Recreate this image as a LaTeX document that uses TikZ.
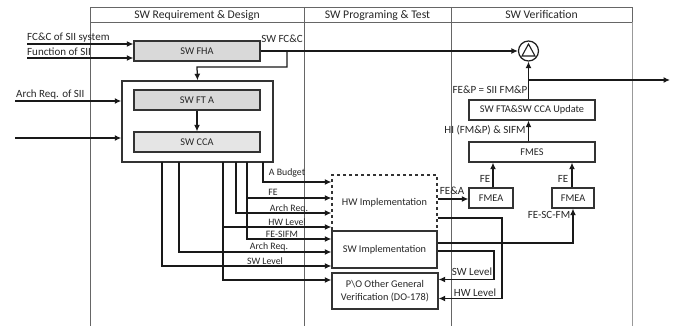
\documentclass[tikz,border=0pt]{standalone}
\usepackage{fontspec}
\setmainfont{Carlito}
\usetikzlibrary{arrows.meta,calc}
\tikzset{
  blk/.style={draw=black!80, line width=1.3pt, inner sep=0pt, fill=white,
              font=\fontsize{10.3}{12}\selectfont, text=black!85},
  grayblk/.style={blk, fill=black!15},
  lightblk/.style={blk, fill=black!10},
  lbl/.style={font=\fontsize{9.8}{11}\selectfont, inner sep=0pt, text=black!85},
  biglbl/.style={font=\fontsize{11}{12}\selectfont, inner sep=0pt, text=black!85},
  headlbl/.style={font=\fontsize{11.7}{13}\selectfont, inner sep=0pt, text=black!85},
  flow/.style={draw=black!90, line width=1.25pt, -{Latex[length=6.5pt,width=6pt]}},
  frame/.style={draw=black!60, line width=0.75pt},
}
\begin{document}
\begin{tikzpicture}[x=1pt,y=-1pt]
\useasboundingbox (0,0) rectangle (673,326);

% lane frame with its header row
\draw[frame] (90,7) rectangle (632,22);
\draw[frame] (90,22) -- (90,326);
\draw[frame] (304,7) -- (304,326);
\draw[frame] (451,7) -- (451,326);
\draw[frame, draw=black!40] (632,22) -- (632,326);
\node[headlbl] (h1) at (197,15) {SW Requirement \& Design};
\node[headlbl] (h2) at (377.5,15) {SW Programing \& Test};
\node[headlbl] (h3) at (541.5,15) {SW Verification};

% requirement and design blocks
\node[grayblk, minimum width=126pt, minimum height=20pt] (fha) at (197,51) {SW FHA};
\node[blk, line width=1.5pt, minimum width=151pt, minimum height=81pt] (outer) at (197.5,121.5) {};
\node[grayblk, minimum width=126pt, minimum height=20pt] (fta) at (197,100) {SW FT A};
\node[lightblk, minimum width=126pt, minimum height=20pt] (cca) at (197,142) {SW CCA};

% implementation blocks
\node[blk, dashed, minimum width=105pt, minimum height=56pt] (hw) at (384.5,203) {HW Implementation};
\node[blk, minimum width=105pt, minimum height=37pt] (sw) at (384.5,249.5) {SW Implementation};
\node[blk, minimum width=106pt, minimum height=36pt, align=center] (po) at (385,291)
  {P\textbackslash O Other General\\[1pt]Verification (DO-178)};

% verification blocks
\node[blk, minimum width=44pt, minimum height=20pt] (fmeaA) at (491,198) {FMEA};
\node[blk, minimum width=42pt, minimum height=20pt] (fmeaB) at (573,198) {FMEA};
\node[blk, minimum width=126pt, minimum height=20pt] (fmes) at (532,152) {FMES};
\node[blk, minimum width=126pt, minimum height=20pt] (upd) at (532,110) {SW FTA\&SW CCA Update};
\node[draw=black!88, line width=1.25pt, circle, minimum size=20pt, inner sep=0pt] (circ) at (528.5,51) {};
\draw[black!88, line width=1.1pt] ($(circ.center)+(0,-7)$) -- ($(circ.center)+(-6.5,5)$)
  -- ($(circ.center)+(6.5,5)$) -- cycle;

% external inputs
\coordinate (in1) at (27,44);
\coordinate (in2) at (27,58);
\coordinate (in3) at (15,101);
\coordinate (in4) at (15,138);
\draw[flow] (in1) -- (fha.west |- in1);
\draw[flow] (in2) -- (fha.west |- in2);
\draw[flow] (in3) -- (outer.west |- in3);
\draw[flow] (in4) -- (outer.west |- in4);
\node[biglbl, anchor=west] (l1) at (27,38) {FC\&C of SII system};
\node[biglbl, anchor=west] (l2) at (27,52) {Function of SII};
\node[biglbl, anchor=west] (l3) at (16,94.5) {Arch Req. of SII};

% FHA output
\draw[flow] (fha.east) -- (circ.west);
\draw[flow] (287,51) -- (287,67) -- (197,67) -- (outer.north);
\node[biglbl] (lfcc) at (282,39) {SW FC\&C};
\draw[flow] (fta.south) -- (cca.north);

% outputs from the FTA/CCA block
\draw[flow] (263,162) |- (hw.west |- 0,182);
\draw[flow] (247,162) |- (hw.west |- 0,198);
\draw[flow] (236,162) |- (hw.west |- 0,213);
\draw[flow] (223,162) |- (hw.west |- 0,227);
\draw[flow] (247,198) |- (sw.west |- 0,239);
\draw[flow] (179,162) |- (sw.west |- 0,252);
\draw[flow] (162,162) |- (sw.west |- 0,266);
\draw[flow] (223,227) |- (po.west |- 0,280);
\node[lbl] (lab) at (287,173) {A Budget};
\node[lbl] (lfe) at (273,192.5) {FE};
\node[lbl] (lar1) at (289,208.5) {Arch Req.};
\node[lbl] (lhw1) at (287,222.5) {HW Level};
\node[lbl] (lsifm) at (282,234) {FE-SIFM};
\node[lbl] (lar2) at (269,246.5) {Arch Req.};
\node[lbl] (lsw1) at (265,261) {SW Level};

% implementation outputs
\draw[flow] (hw.east |- 0,199) -- (fmeaA.west |- 0,199);
\draw[flow] (hw.east |- 0,218) -- (502,218) -- (502,298.5) -- (po.east |- 0,298.5);
\draw[flow] (sw.east |- 0,243) -| (fmeaB.south);
\draw[flow] (sw.east |- 0,251) -- (494,251) -- (494,279.5) -- (po.east |- 0,279.5);
\node[biglbl] (lfea) at (452,190.5) {FE\&A};
\node[biglbl] (lhw2) at (475,292.5) {HW Level};
\node[biglbl] (lsw2) at (472,272) {SW Level};
\node[biglbl] (lscfm) at (549,215) {FE-SC-FM};

% verification chain
\draw[flow] (fmeaA.north -| 493,0) -- (fmes.south -| 493,0);
\draw[flow] (fmeaB.north -| 572,0) -- (fmes.south -| 572,0);
\draw[flow] (fmes.north -| circ.center) -- (upd.south -| circ.center);
\draw[flow] (upd.north -| circ.center) -- (circ.south);
\coordinate (outR) at (670,80);
\draw[flow] (circ.center |- outR) -- (outR);
\node[biglbl] (lfe1) at (485,179) {FE};
\node[biglbl] (lfe2) at (563,179) {FE};
\node[biglbl] (lhi) at (485,130) {HI (FM\&P) \& SIFM};
\node[biglbl] (lfep) at (490,90) {FE\&P = SII FM\&P};
\end{tikzpicture}
\end{document}
